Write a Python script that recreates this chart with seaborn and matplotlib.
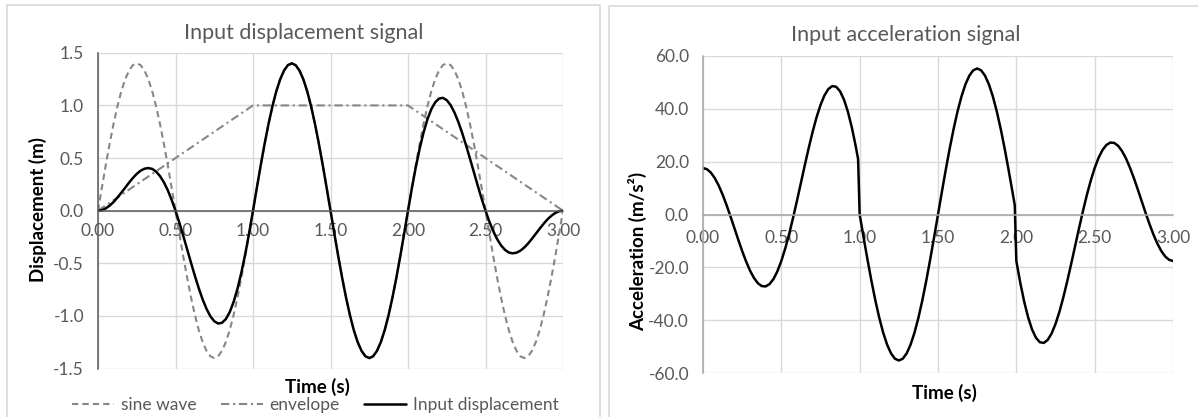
import matplotlib
matplotlib.use("Agg")
import matplotlib.pyplot as plt
import seaborn as sns
import pandas as pd
from matplotlib.patches import Rectangle

# ---------------- data ----------------
time_s = [0.000, 0.025, 0.050, 0.075, 0.100, 0.125, 0.150, 0.175, 0.200, 0.225,
          0.250, 0.275, 0.300, 0.325, 0.350, 0.375, 0.400, 0.425, 0.450, 0.475,
          0.500, 0.525, 0.550, 0.575, 0.600, 0.625, 0.650, 0.675, 0.700, 0.725,
          0.750, 0.775, 0.800, 0.825, 0.850, 0.875, 0.900, 0.925, 0.950, 0.975,
          1.000, 1.025, 1.050, 1.075, 1.100, 1.125, 1.150, 1.175, 1.200, 1.225,
          1.250, 1.275, 1.300, 1.325, 1.350, 1.375, 1.400, 1.425, 1.450, 1.475,
          1.500, 1.525, 1.550, 1.575, 1.600, 1.625, 1.650, 1.675, 1.700, 1.725,
          1.750, 1.775, 1.800, 1.825, 1.850, 1.875, 1.900, 1.925, 1.950, 1.975,
          2.000, 2.025, 2.050, 2.075, 2.100, 2.125, 2.150, 2.175, 2.200, 2.225,
          2.250, 2.275, 2.300, 2.325, 2.350, 2.375, 2.400, 2.425, 2.450, 2.475,
          2.500, 2.525, 2.550, 2.575, 2.600, 2.625, 2.650, 2.675, 2.700, 2.725,
          2.750, 2.775, 2.800, 2.825, 2.850, 2.875, 2.900, 2.925, 2.950, 2.975,
          3.000]

sine_wave = [0.000, 0.219, 0.433, 0.636, 0.823, 0.990, 1.133, 1.247, 1.331, 1.383,
             1.400, 1.383, 1.331, 1.247, 1.133, 0.990, 0.823, 0.636, 0.433, 0.219,
             0.000, -0.219, -0.433, -0.636, -0.823, -0.990, -1.133, -1.247, -1.331, -1.383,
             -1.400, -1.383, -1.331, -1.247, -1.133, -0.990, -0.823, -0.636, -0.433, -0.219,
             0.000, 0.219, 0.433, 0.636, 0.823, 0.990, 1.133, 1.247, 1.331, 1.383,
             1.400, 1.383, 1.331, 1.247, 1.133, 0.990, 0.823, 0.636, 0.433, 0.219,
             0.000, -0.219, -0.433, -0.636, -0.823, -0.990, -1.133, -1.247, -1.331, -1.383,
             -1.400, -1.383, -1.331, -1.247, -1.133, -0.990, -0.823, -0.636, -0.433, -0.219,
             0.000, 0.219, 0.433, 0.636, 0.823, 0.990, 1.133, 1.247, 1.331, 1.383,
             1.400, 1.383, 1.331, 1.247, 1.133, 0.990, 0.823, 0.636, 0.433, 0.219,
             0.000, -0.219, -0.433, -0.636, -0.823, -0.990, -1.133, -1.247, -1.331, -1.383,
             -1.400, -1.383, -1.331, -1.247, -1.133, -0.990, -0.823, -0.636, -0.433, -0.219,
             0.000]

envelope_time = [0.0, 1.0, 2.0, 3.0]
envelope = [0.0, 1.0, 1.0, 0.0]

input_displacement = [0.000, 0.005, 0.022, 0.048, 0.082, 0.124, 0.170, 0.218, 0.266, 0.311,
                      0.350, 0.380, 0.399, 0.405, 0.397, 0.371, 0.329, 0.270, 0.195, 0.104,
                      0.000, -0.115, -0.238, -0.366, -0.494, -0.619, -0.736, -0.842, -0.932, -1.003,
                      -1.050, -1.072, -1.065, -1.029, -0.963, -0.866, -0.741, -0.588, -0.411, -0.214,
                      0.000, 0.219, 0.433, 0.636, 0.823, 0.990, 1.133, 1.247, 1.331, 1.383,
                      1.400, 1.383, 1.331, 1.247, 1.133, 0.990, 0.823, 0.636, 0.433, 0.219,
                      0.000, -0.219, -0.433, -0.636, -0.823, -0.990, -1.133, -1.247, -1.331, -1.383,
                      -1.400, -1.383, -1.331, -1.247, -1.133, -0.990, -0.823, -0.636, -0.433, -0.219,
                      0.000, 0.214, 0.411, 0.588, 0.741, 0.866, 0.963, 1.029, 1.065, 1.072,
                      1.050, 1.003, 0.932, 0.842, 0.736, 0.619, 0.494, 0.366, 0.238, 0.115,
                      0.000, -0.104, -0.195, -0.270, -0.329, -0.371, -0.397, -0.405, -0.399, -0.380,
                      -0.350, -0.311, -0.266, -0.218, -0.170, -0.124, -0.082, -0.048, -0.022, -0.005,
                      0.000]

acc_time = [0.000, 0.025, 0.050, 0.075, 0.100, 0.125, 0.150, 0.175, 0.200, 0.225,
            0.250, 0.275, 0.300, 0.325, 0.350, 0.375, 0.400, 0.425, 0.450, 0.475,
            0.500, 0.525, 0.550, 0.575, 0.600, 0.625, 0.650, 0.675, 0.700, 0.725,
            0.750, 0.775, 0.800, 0.825, 0.850, 0.875, 0.900, 0.925, 0.950, 0.975,
            0.990,
            1.000, 1.025, 1.050, 1.075, 1.100, 1.125, 1.150, 1.175, 1.200, 1.225,
            1.250, 1.275, 1.300, 1.325, 1.350, 1.375, 1.400, 1.425, 1.450, 1.475,
            1.500, 1.525, 1.550, 1.575, 1.600, 1.625, 1.650, 1.675, 1.700, 1.725,
            1.750, 1.775, 1.800, 1.825, 1.850, 1.875, 1.900, 1.925, 1.950, 1.975,
            1.990,
            2.000, 2.025, 2.050, 2.075, 2.100, 2.125, 2.150, 2.175, 2.200, 2.225,
            2.250, 2.275, 2.300, 2.325, 2.350, 2.375, 2.400, 2.425, 2.450, 2.475,
            2.500, 2.525, 2.550, 2.575, 2.600, 2.625, 2.650, 2.675, 2.700, 2.725,
            2.750, 2.775, 2.800, 2.825, 2.850, 2.875, 2.900, 2.925, 2.950, 2.975,
            3.000]

input_acceleration = [17.59, 17.15, 15.88, 13.79, 10.98, 7.55, 3.63, -0.63, -5.07, -9.53,
                      -13.82, -17.76, -21.21, -23.99, -25.99, -27.10, -27.23, -26.33, -24.42, -21.48,
                      -17.59, -12.83, -7.34, -1.24, 5.26, 11.99, 18.72, 25.25, 31.36, 36.83,
                      41.45, 45.06, 47.49, 48.62, 48.35, 46.64, 43.47, 38.88, 32.95, 25.80,
                      21.00,
                      0.00, -8.65, -17.08, -25.09, -32.49, -39.08, -44.71, -49.25, -52.57, -54.59,
                      -55.27, -54.59, -52.57, -49.25, -44.71, -39.08, -32.49, -25.09, -17.08, -8.65,
                      0.00, 8.65, 17.08, 25.09, 32.49, 39.08, 44.71, 49.25, 52.57, 54.59,
                      55.27, 54.59, 52.57, 49.25, 44.71, 39.08, 32.49, 25.09, 17.08, 8.65,
                      3.50,
                      -17.59, -25.80, -32.95, -38.88, -43.47, -46.64, -48.35, -48.62, -47.49, -45.06,
                      -41.45, -36.83, -31.36, -25.25, -18.72, -11.99, -5.26, 1.24, 7.34, 12.83,
                      17.59, 21.48, 24.42, 26.33, 27.23, 27.10, 25.99, 23.99, 21.21, 17.76,
                      13.82, 9.53, 5.07, 0.63, -3.63, -7.55, -10.98, -13.79, -15.88, -17.15,
                      -17.59]

x_ticks = [0.0, 0.5, 1.0, 1.5, 2.0, 2.5, 3.0]
x_ticklabels = ["0.00", "0.50", "1.00", "1.50", "2.00", "2.50", "3.00"]
disp_ticks = [-1.5, -1.0, -0.5, 0.0, 0.5, 1.0, 1.5]
disp_ticklabels = ["-1.5", "-1.0", "-0.5", "0.0", "0.5", "1.0", "1.5"]
acc_ticks = [-60, -40, -20, 0, 20, 40, 60]
acc_ticklabels = ["-60.0", "-40.0", "-20.0", "0.0", "20.0", "40.0", "60.0"]

# ---------------- style ----------------
sns.set_style("white")
plt.rcParams['font.family'] = ['Lato', 'DejaVu Sans']
TXT = "#595959"
GRID = "#d9d9d9"

W, H = 1198, 417
fig = plt.figure(figsize=(W / 100, H / 100), dpi=100)


def fx(px):
    return px / W


def fy(py):
    return 1 - py / H


# panel frames
fig.patches.append(Rectangle((fx(7), fy(440)), fx(600) - fx(7), fy(5) - fy(440),
                             transform=fig.transFigure, fill=False, ec=GRID, lw=1.2))
fig.patches.append(Rectangle((fx(609), fy(440)), fx(1240) - fx(609), fy(6) - fy(440),
                             transform=fig.transFigure, fill=False, ec=GRID, lw=1.2))

ax1 = fig.add_axes([fx(98), fy(368.6), fx(563) - fx(98), (368.6 - 52.8) / H])
ax2 = fig.add_axes([fx(703), fy(373), fx(1173) - fx(703), (373 - 56) / H])

df_disp = pd.DataFrame({"t": time_s, "sine": sine_wave, "disp": input_displacement})
df_env = pd.DataFrame({"t": envelope_time, "env": envelope})
df_acc = pd.DataFrame({"t": acc_time, "acc": input_acceleration})

sns.lineplot(data=df_disp, x="t", y="sine", ax=ax1, color="#878787", lw=1.5,
             linestyle=(0, (3, 2)), label="sine wave", estimator=None, sort=False)
sns.lineplot(data=df_env, x="t", y="env", ax=ax1, color="#878787", lw=1.5,
             linestyle=(0, (4, 1.8, 1, 1.8)), label="envelope", estimator=None, sort=False)
sns.lineplot(data=df_disp, x="t", y="disp", ax=ax1, color="black", lw=1.8,
             label="Input displacement", estimator=None, sort=False)
sns.lineplot(data=df_acc, x="t", y="acc", ax=ax2, color="black", lw=1.8,
             estimator=None, sort=False)

for ax, yt, ytl, ylim, axcol, pad in [
        (ax1, disp_ticks, disp_ticklabels, (-1.5, 1.5), "#595959", 8.5),
        (ax2, acc_ticks, acc_ticklabels, (-60, 60), "#a6a6a6", 11)]:
    ax.set_xlim(0, 3)
    ax.set_ylim(*ylim)
    ax.set_xticks(x_ticks)
    ax.set_xticklabels(x_ticklabels)
    ax.set_yticks(yt)
    ax.set_yticklabels(ytl)
    ax.grid(True, color=GRID, lw=1.0)
    ax.set_axisbelow(True)
    for s in ["top", "right"]:
        ax.spines[s].set_visible(False)
    ax.spines["bottom"].set_position(("data", 0))
    ax.spines["bottom"].set_color(axcol)
    ax.spines["left"].set_color(axcol)
    ax.spines["bottom"].set_linewidth(1.1)
    ax.spines["left"].set_linewidth(1.1)
    ax.tick_params(axis="both", length=0, labelsize=12.5, labelcolor=TXT)
    ax.tick_params(axis="x", pad=pad)
    ax.tick_params(axis="y", pad=10)
    ax.set_xlabel("")
    ax.set_ylabel("")
    if ax.get_legend() is not None:
        ax.get_legend().remove()

# titles and axis labels
fig.text(fx(304), fy(33), "Input displacement signal", ha="center", va="center",
         fontsize=15.5, color=TXT)
fig.text(fx(906), fy(35), "Input acceleration signal", ha="center", va="center",
         fontsize=15.5, color=TXT)
fig.text(fx(317.5), fy(387), "Time (s)", ha="center", va="center",
         fontsize=13.5, fontweight="bold", color="black")
fig.text(fx(944), fy(393), "Time (s)", ha="center", va="center",
         fontsize=13.5, fontweight="bold", color="black")
fig.text(fx(38), fy(210), "Displacement (m)", ha="center", va="center", rotation=90,
         fontsize=13.5, fontweight="bold", color="black")
fig.text(fx(638), fy(251), "Acceleration (m/s²)", ha="center", va="center", rotation=90,
         fontsize=13.5, fontweight="bold", color="black")

handles, labels = ax1.get_legend_handles_labels()
fig.legend(handles, labels, loc="center", bbox_to_anchor=(fx(315.5), fy(405)),
           ncol=3, frameon=False, fontsize=12.5, labelcolor=TXT,
           handlelength=2.4, handletextpad=0.4, columnspacing=1.4)

fig.savefig("out.png", dpi=100)
